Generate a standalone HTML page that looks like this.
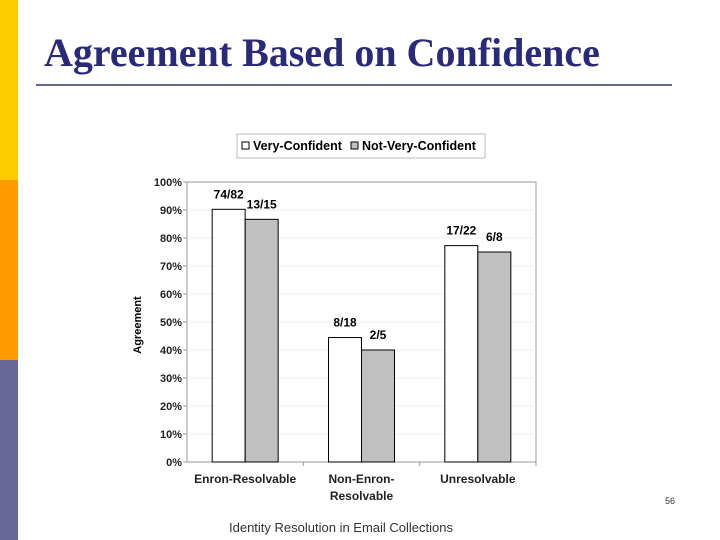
<!DOCTYPE html>
<html><head><meta charset="utf-8"><style>
body{margin:0;width:720px;height:540px;background:#fff;position:relative;overflow:hidden;font-family:"Liberation Sans",sans-serif}
</style></head><body>
<div style="position:absolute;left:0;top:0;width:18px;height:180px;background:#ffcc00"></div>
<div style="position:absolute;left:0;top:180px;width:18px;height:180px;background:#ff9900"></div>
<div style="position:absolute;left:0;top:360px;width:18px;height:180px;background:#666699"></div>
<div style="position:absolute;left:44px;top:29px;font:bold 40px 'Liberation Serif',serif;color:#2a2a7a;white-space:nowrap">Agreement Based on Confidence</div>
<div style="position:absolute;left:36px;top:84px;width:636px;height:2px;background:#666699"></div>
<div style="position:absolute;left:229px;top:520px;font-size:13px;color:#333">Identity Resolution in Email Collections</div>
<div style="position:absolute;left:665px;top:496px;font-size:9px;color:#333">56</div>
<svg id="c" width="720" height="540" style="position:absolute;left:0;top:0" font-family="Liberation Sans, sans-serif"></svg>
<script>
const categories=[["Enron-Resolvable"],["Non-Enron-","Resolvable"],["Unresolvable"]];
const veryConfident=[74/82,8/18,17/22];
const notVeryConfident=[13/15,2/5,6/8];
const veryLabels=["74/82","8/18","17/22"];
const notLabels=["13/15","2/5","6/8"];
const yTicks=[0,0.1,0.2,0.3,0.4,0.5,0.6,0.7,0.8,0.9,1.0];
const svg=document.getElementById('c');
const NS='http://www.w3.org/2000/svg';
const L=187,R=536,T=182,B=462;
const y=v=>B-(B-T)*v;
const gw=(R-L)/categories.length;
function mk(t,a,txt){const e=document.createElementNS(NS,t);for(const k in a)e.setAttribute(k,a[k]);if(txt!==undefined)e.textContent=txt;svg.appendChild(e);return e;}
let e=mk('rect',{x:L,y:T,width:R-L,height:B-T,fill:'#fff',stroke:'#999','stroke-width':1});

yTicks.forEach(v=>{
 if(v>0&&v<1){let g=mk('line',{x1:L,x2:R,y1:y(v),y2:y(v),stroke:'#eee'});}
 let t=mk('line',{x1:L-4,x2:L,y1:y(v),y2:y(v),stroke:'#999'});
 let l=mk('text',{x:L-5,y:y(v)+4,'text-anchor':'end','font-size':11,'font-weight':'bold',fill:'#222'},Math.round(v*100)+'%');
 
});
const bw=33;
categories.forEach((c,i)=>{
 const cx=L+gw*(i+0.5);
 let b1=mk('rect',{x:cx-bw,y:y(veryConfident[i]),width:bw,height:B-y(veryConfident[i]),fill:'#fff',stroke:'#000'});
 
 let b2=mk('rect',{x:cx,y:y(notVeryConfident[i]),width:bw,height:B-y(notVeryConfident[i]),fill:'#c0c0c0',stroke:'#000'});
 
 let t1=mk('text',{x:cx-bw/2,y:y(veryConfident[i])-11,'text-anchor':'middle','font-size':12,'font-weight':'bold'},veryLabels[i]);
 
 let t2=mk('text',{x:cx+bw/2,y:y(notVeryConfident[i])-11,'text-anchor':'middle','font-size':12,'font-weight':'bold'},notLabels[i]);
 
 let tk=mk('line',{x1:L+gw*(i+1),x2:L+gw*(i+1),y1:B,y2:B+4,stroke:'#999'});
 c.forEach((s,j)=>{let t=mk('text',{x:cx,y:483+j*17,'text-anchor':'middle','font-size':12,'font-weight':'bold',fill:'#222'},s);
 });
});
let yt=mk('text',{x:141,y:325,'text-anchor':'middle','font-size':11,'font-weight':'bold',transform:'rotate(-90 141 325)'},'Agreement');

let lg=mk('rect',{x:237,y:134,width:248,height:24,fill:'#fff',stroke:'#bbb'});
let s1=mk('rect',{x:242,y:142,width:7,height:7,fill:'#fff',stroke:'#000'});
let l1=mk('text',{x:253,y:150,'font-size':12.5,'font-weight':'bold'},'Very-Confident');
let s2=mk('rect',{x:351,y:142,width:7,height:7,fill:'#c0c0c0',stroke:'#000'});
let l2=mk('text',{x:362,y:150,'font-size':12.5,'font-weight':'bold'},'Not-Very-Confident');
</script>
</body></html>
